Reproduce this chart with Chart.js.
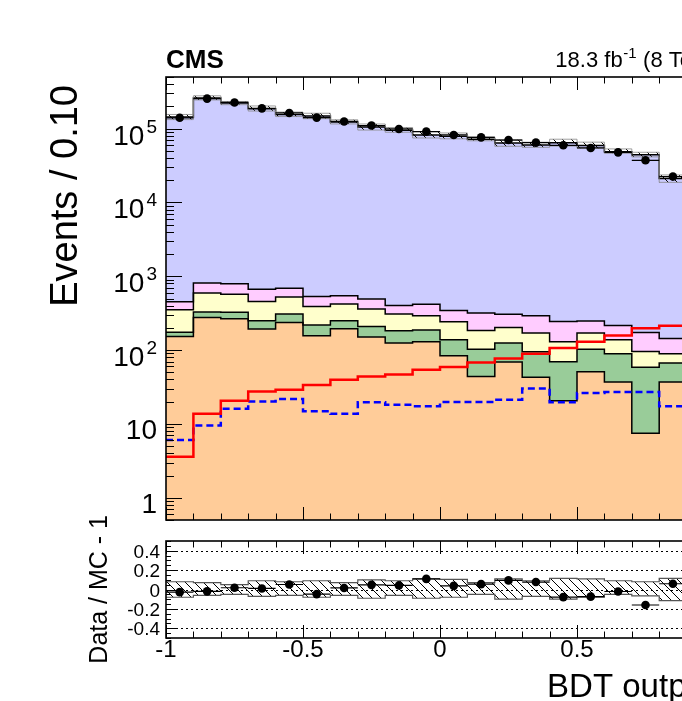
<!DOCTYPE html>
<html><head><meta charset="utf-8">
<script src="https://cdn.jsdelivr.net/npm/chart.js@4.4.1/dist/chart.umd.min.js"></script>
<style>
html,body{margin:0;padding:0;background:#fff;overflow:hidden;}
#wrap{position:relative;width:682px;height:701px;overflow:hidden;background:#fff;}
#main{position:absolute;left:0;top:0;}
#ratio{position:absolute;left:0;top:505px;}
</style></head><body>
<div id="wrap"><canvas id="main" width="760" height="530"></canvas><canvas id="ratio" width="760" height="196"></canvas></div>
<script>
// ---------- data ----------
const binEdges = [-1.0,-0.9,-0.8,-0.7,-0.6,-0.5,-0.4,-0.3,-0.2,-0.1,0.0,0.1,0.2,0.3,0.4,0.5,0.6,0.7,0.8,0.9];
const dataObs  = [140000,255000,226000,188000,163000,141000,125000,110000,99000,91000,82000,76000,70000,64600,59400,54700,47700,37200,22400];
const bkgBlue  = [143500,259200,221200,185300,154300,147500,122500,104500,94600,81600,78700,71700,63700,59700,64200,58800,48500,44100,21000];
const bkgPink  = [100,217,225,208,162,143,125,132,95,125,102,133,102,122,115,77,78,78,55];
const bkgYellow= [179,266,244,207,216,172,171,151,125,105,105,82,78,75,60,67,49,37,22];
const bkgGreen = [21,51,59,57,71,62,55,59,58,57,54,59,56,52,49,52,52,51,30];
const bkgOrange= [153,277,266,193,237,157,195,150,125,130,84,44,69,43,20.6,51,37,7.5,37];
const sigRed   = [3.6,13.7,20.6,27.6,29.1,33.7,39.7,44,46.9,54.2,59,68,77,89,107,130,158,197,214];
const sigBlue  = [6.05,9.55,16.1,20.2,21.7,14.8,13.7,19.6,18.2,17.3,19.8,19.8,21.3,30.3,19.6,26.2,27.1,27.1,17.3];
const uncUp    = [0.08,0.07,0.05,0.09,0.08,0.09,0.07,0.10,0.09,0.11,0.105,0.07,0.11,0.09,0.115,0.11,0.09,0.08,0.115];
const uncDown  = [0.08,0.06,0.05,0.07,0.06,0.08,0.06,0.09,0.06,0.09,0.08,0.05,0.10,0.07,0.10,0.08,0.05,0.065,0.115];
const xTickLabels = [-1, -0.5, 0, 0.5, 1];
const ratioTickLabels = [0.4, 0.2, 0, -0.2, -0.4];
const logTickExponents = [0,1,2,3,4,5];

// ---------- helpers ----------
const FONT = "'Liberation Sans', Arial, Helvetica, sans-serif";
const nb = dataObs.length;
function step(vals){
  const pts = vals.map((v,i)=>({x:binEdges[i], y:v}));
  const last = binEdges[nb-1] + (binEdges[nb-1]-binEdges[nb-2]);
  pts.push({x:last, y:vals[nb-1]});
  return pts;
}
function binHi(i){ return i+1<binEdges.length ? binEdges[i+1] : binEdges[i]+(binEdges[i]-binEdges[i-1]); }
function hatch(ctx){
  const c=document.createElement('canvas'); c.width=9; c.height=9;
  const g=c.getContext('2d'); g.strokeStyle='#000'; g.lineWidth=1;
  g.beginPath(); g.moveTo(0,0); g.lineTo(9,9); g.moveTo(-1,8); g.lineTo(1,10); g.moveTo(8,-1); g.lineTo(10,1); g.stroke();
  return ctx.createPattern(c,'repeat');
}
const comps = [bkgOrange,bkgGreen,bkgYellow,bkgPink,bkgBlue];
const cum=[]; let run=new Array(nb).fill(0);
comps.forEach(c=>{ run=run.map((r,i)=>r+c[i]); cum.push(run.slice()); });
const total = cum[4];
const dataPts = dataObs.map((v,i)=>({x:(binEdges[i]+binHi(i))/2, y:v, lo:binEdges[i], hi:binHi(i)}));
const ratioPts = dataObs.map((v,i)=>({x:(binEdges[i]+binHi(i))/2, y:v/total[i]-1, lo:binEdges[i], hi:binHi(i)}));

function xTicks(ctx, chart){
  const xs=chart.scales.x, a=chart.chartArea;
  ctx.save(); ctx.strokeStyle='#000'; ctx.lineWidth=1; ctx.beginPath();
  for(let i=-10;i<=10;i++){
    const px=Math.round(xs.getPixelForValue(i/10))+0.5;
    const L = (i%5===0)?13:6.5;
    ctx.moveTo(px,a.bottom); ctx.lineTo(px,a.bottom-L);
    ctx.moveTo(px,a.top); ctx.lineTo(px,a.top+L);
  }
  ctx.stroke(); ctx.restore();
}
function frame(ctx, chart){
  const a=chart.chartArea;
  ctx.save(); ctx.strokeStyle='#000'; ctx.lineWidth=1.6;
  ctx.strokeRect(a.left, a.top, a.right-a.left, a.bottom-a.top); ctx.restore();
}
function xErr(ctx, chart){
  const xs=chart.scales.x, ys=chart.scales.y;
  ctx.save(); ctx.strokeStyle='#000'; ctx.lineWidth=1.2; ctx.beginPath();
  chart.data.datasets[0].data.forEach(p=>{
    const py=ys.getPixelForValue(p.y);
    ctx.moveTo(xs.getPixelForValue(p.lo),py); ctx.lineTo(xs.getPixelForValue(p.hi),py);
  });
  ctx.stroke(); ctx.restore();
}

const mainPlugin = {
  id:'mainDeco',
  afterDatasetsDraw(chart){
    const ctx=chart.ctx, a=chart.chartArea, ys=chart.scales.y;
    xErr(ctx, chart);
    xTicks(ctx, chart);
    ctx.save(); ctx.strokeStyle='#000'; ctx.lineWidth=1; ctx.beginPath();
    for(let d=-1; d<=5; d++){
      for(let m=1;m<=9;m++){
        const v=m*Math.pow(10,d);
        if(v<ys.min||v>ys.max) continue;
        const py=Math.round(ys.getPixelForValue(v))+0.5;
        const L=(m===1)?16:8;
        ctx.moveTo(a.left,py); ctx.lineTo(a.left+L,py);
        ctx.moveTo(a.right,py); ctx.lineTo(a.right-L,py);
      }
    }
    ctx.stroke(); ctx.restore();
    frame(ctx, chart);
    ctx.save(); ctx.fillStyle='#000'; ctx.textAlign='right'; ctx.textBaseline='alphabetic';
    logTickExponents.forEach(k=>{
      const py=ys.getPixelForValue(Math.pow(10,k));
      const xr=157;
      if(k===0){ ctx.font='28px '+FONT; ctx.fillText('1',xr,py+15); }
      else if(k===1){ ctx.font='28px '+FONT; ctx.fillText('10',xr,py+15); }
      else {
        ctx.font='19px '+FONT; const ew=ctx.measureText(String(k)).width;
        ctx.fillText(String(k),xr,py+4);
        ctx.font='28px '+FONT; ctx.fillText('10',xr-ew-2,py+16);
      }
    });
    ctx.textAlign='left'; ctx.font='bold 26px '+FONT; ctx.fillText('CMS', a.left, 68);
    ctx.font='22px '+FONT; const p1='18.3 fb'; const p3=' (8 TeV)';
    const w1=ctx.measureText(p1).width, w3=ctx.measureText(p3).width;
    ctx.font='15px '+FONT; const w2=ctx.measureText('-1').width;
    let x0=a.right-(w1+w2+w3+1);
    ctx.font='22px '+FONT; ctx.fillText(p1,x0,67);
    ctx.font='15px '+FONT; ctx.fillText('-1',x0+w1+0.5,58);
    ctx.font='22px '+FONT; ctx.fillText(p3,x0+w1+w2+1,67);
    ctx.translate(77,85); ctx.rotate(-Math.PI/2);
    ctx.font='38px '+FONT; ctx.textAlign='right'; ctx.fillText('Events / 0.10',0,0);
    ctx.restore();
  }
};

const ratioPlugin = {
  id:'ratioDeco',
  beforeDatasetsDraw(chart){
    const ctx=chart.ctx, a=chart.chartArea, ys=chart.scales.y;
    ctx.save(); ctx.strokeStyle='#000'; ctx.lineWidth=1; ctx.setLineDash([2,3]);
    ratioTickLabels.forEach(v=>{
      const py=Math.round(ys.getPixelForValue(v))+0.5;
      ctx.beginPath(); ctx.moveTo(a.left,py); ctx.lineTo(a.right,py); ctx.stroke();
    });
    ctx.restore();
  },
  afterDatasetsDraw(chart){
    const ctx=chart.ctx, a=chart.chartArea, ys=chart.scales.y, xs=chart.scales.x;
    xErr(ctx, chart);
    xTicks(ctx, chart);
    ctx.save(); ctx.strokeStyle='#000'; ctx.lineWidth=1; ctx.beginPath();
    for(let i=-10;i<=10;i++){
      const py=Math.round(ys.getPixelForValue(i*0.05))+0.5;
      const L=(i%4===0)?10:5;
      ctx.moveTo(a.left,py); ctx.lineTo(a.left+L,py);
      ctx.moveTo(a.right,py); ctx.lineTo(a.right-L,py);
    }
    ctx.stroke(); ctx.restore();
    frame(ctx, chart);
    ctx.save(); ctx.fillStyle='#000';
    ctx.font='19px '+FONT; ctx.textAlign='right'; ctx.textBaseline='alphabetic';
    ratioTickLabels.forEach(v=>{ ctx.fillText(String(v),160,ys.getPixelForValue(v)+7); });
    ctx.font='24px '+FONT; ctx.textAlign='center';
    xTickLabels.forEach(v=>{ ctx.fillText(String(v), xs.getPixelForValue(v), a.bottom+19); });
    ctx.font='33px '+FONT; ctx.textAlign='right';
    ctx.fillText('BDT output', a.right, 192);
    ctx.translate(107,10); ctx.rotate(-Math.PI/2);
    ctx.font='25px '+FONT; ctx.textAlign='right'; ctx.fillText('Data / MC - 1',0,0);
    ctx.restore();
  }
};

const base = {
  responsive:false, animation:false, devicePixelRatio:1, events:[],
  plugins:{legend:{display:false}, tooltip:{enabled:false}, filler:{drawTime:'beforeDatasetsDraw'}},
  elements:{point:{radius:0}, line:{tension:0}}
};

const mctx=document.getElementById('main').getContext('2d');
const pat1=hatch(mctx);
new Chart(mctx,{
  type:'line',
  data:{datasets:[
    {label:'Data', data:dataPts, showLine:false, pointRadius:4.3, pointBackgroundColor:'#000', pointBorderWidth:0},
    {label:'Signal (solid red)', data:step(sigRed), borderColor:'#ff0000', borderWidth:2.5, stepped:'before', fill:false},
    {label:'Signal (dashed blue)', data:step(sigBlue), borderColor:'#0000ff', borderWidth:2.5, borderDash:[7,4], stepped:'before', fill:false},
    {label:'MC unc. up', data:step(total.map((t,i)=>t*(1+uncUp[i]))), borderColor:'#888', borderWidth:0.8, stepped:'before', fill:'+1', backgroundColor:pat1},
    {label:'MC unc. down', data:step(total.map((t,i)=>t*(1-uncDown[i]))), borderColor:'#888', borderWidth:0.8, stepped:'before', fill:false},
    {label:'Background (lavender)', data:step(cum[4]), borderColor:'#000', borderWidth:1.5, stepped:'before', fill:'+1', backgroundColor:'#ccccff'},
    {label:'Background (pink)', data:step(cum[3]), borderColor:'#000', borderWidth:1.5, stepped:'before', fill:'+1', backgroundColor:'#ffccff'},
    {label:'Background (yellow)', data:step(cum[2]), borderColor:'#000', borderWidth:1.5, stepped:'before', fill:'+1', backgroundColor:'#ffffcc'},
    {label:'Background (green)', data:step(cum[1]), borderColor:'#000', borderWidth:1.5, stepped:'before', fill:'+1', backgroundColor:'#99cc99'},
    {label:'Background (orange)', data:step(cum[0]), borderColor:'#000', borderWidth:1.5, stepped:'before', fill:'start', backgroundColor:'#ffcc99'}
  ]},
  options:Object.assign({}, base, {
    layout:{padding:{left:166,right:46,top:77,bottom:10}},
    scales:{
      x:{type:'linear', min:-1, max:1, display:false},
      y:{type:'logarithmic', min:0.5, max:5e5, display:false}
    }
  }),
  plugins:[mainPlugin]
});

const rctx=document.getElementById('ratio').getContext('2d');
const pat2=hatch(rctx);
new Chart(rctx,{
  type:'line',
  data:{datasets:[
    {label:'Data / MC - 1', data:ratioPts, showLine:false, pointRadius:4.3, pointBackgroundColor:'#000', pointBorderWidth:0},
    {label:'MC unc. up', data:step(uncUp), borderColor:'#555', borderWidth:1.2, stepped:'before', fill:'+1', backgroundColor:pat2},
    {label:'MC unc. down', data:step(uncDown.map(v=>-v)), borderColor:'#555', borderWidth:1.2, stepped:'before', fill:false}
  ]},
  options:Object.assign({}, base, {
    layout:{padding:{left:166,right:46,top:36,bottom:63}},
    scales:{
      x:{type:'linear', min:-1, max:1, display:false},
      y:{type:'linear', min:-0.5, max:0.5, display:false}
    }
  }),
  plugins:[ratioPlugin]
});
</script>
</body></html>
